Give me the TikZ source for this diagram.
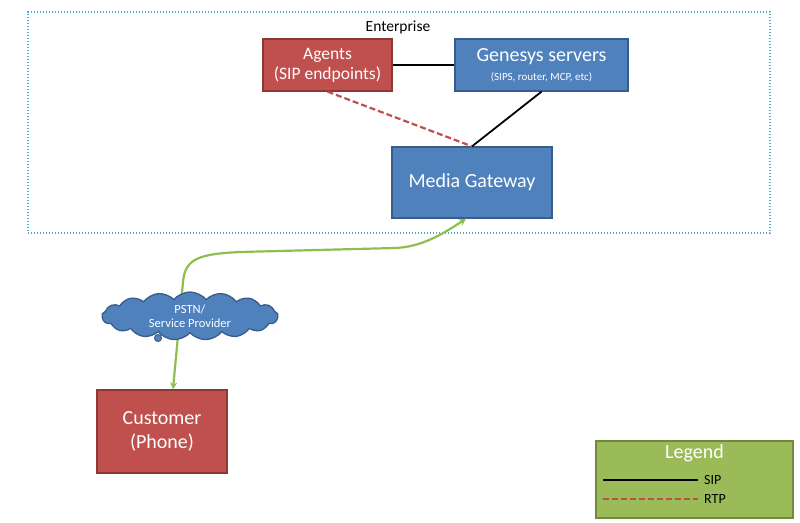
\documentclass[tikz,border=0pt]{standalone}
\usepackage{fontspec}
\setmainfont{Carlito}
\usetikzlibrary{positioning,shapes.symbols,arrows.meta}
\definecolor{boxred}{HTML}{C0504D}
\definecolor{edgered}{HTML}{8C3836}
\definecolor{boxblue}{HTML}{4F81BD}
\definecolor{edgeblue}{HTML}{385D8A}
\definecolor{boxgreen}{HTML}{9BBB59}
\definecolor{edgegreen}{HTML}{71893F}
\definecolor{callgreen}{HTML}{8DBF4F}
\definecolor{dotblue}{HTML}{4BACC6}
\definecolor{rtpred}{HTML}{C0504D}

\tikzset{
  redbox/.style={draw=edgered, fill=boxred, line width=1.3pt, text=white, align=center},
  bluebox/.style={draw=edgeblue, fill=boxblue, line width=1.3pt, text=white, align=center},
  sip/.style={black, line width=1.8pt},
  rtp/.style={rtpred, line width=2.2pt, dash pattern=on 6pt off 3pt},
  callline/.style={callgreen, line width=2.2pt, {Stealth[length=7pt,width=7pt]}-{Stealth[length=7pt,width=7pt]}},
}

\begin{document}
\begin{tikzpicture}[x=1pt, y=-1pt]
	\useasboundingbox (0,0) rectangle (800,522);
	
	% enterprise area
	\node[draw=dotblue, line width=1.4pt, dash pattern=on 1.4pt off 1.6pt, minimum width=742pt, minimum height=221pt] (enterprise) at (399,122.5) {};
	\node[font=\fontsize{15.5}{18}\selectfont] (entlabel) at (398,27) {Enterprise};
	
	\node[redbox, minimum width=129pt, minimum height=52pt, font=\fontsize{17.5}{20}\selectfont] (agents) at (327.5,65) {Agents\\(SIP endpoints)};
	\node[bluebox, minimum width=173pt, minimum height=52pt, font=\fontsize{20}{21}\selectfont] (genesys) at (541.5,65) {Genesys servers\\[-2pt]{\fontsize{11}{13}\selectfont (SIPS, router, MCP, etc)}};
	\node[bluebox, minimum width=160pt, minimum height=71pt, font=\fontsize{20}{22}\selectfont] (mg) at (472,182.5) {Media Gateway};
	
	\node[redbox, minimum width=130pt, minimum height=83pt, font=\fontsize{20}{24}\selectfont] (customer) at (162,431.5) {Customer\\(Phone)};
	
	\draw[sip] (agents) -- (genesys);
	\draw[sip] (genesys.south) -- (mg.north);
	\draw[rtp] (agents.south) -- (mg.north);
	\draw[callline] ([xshift=11pt]customer.north) -- (183,282) .. controls (185,258) and (200,254) .. (240,252) -- (395,248) .. controls (420,247) and (440,236) .. ([xshift=-6pt]mg.south);
	
	% cloud sits over the call line
	\node[cloud, cloud puffs=17, cloud puff arc=100, aspect=3.8, draw=edgeblue, fill=boxblue, line width=1.3pt, text=white, align=center, minimum width=176pt, minimum height=48pt, inner sep=0pt, font=\fontsize{12.5}{14}\selectfont] (pstn) at (190,316) {PSTN/\\Service Provider};
	\node[circle, draw=edgeblue, fill=boxblue, line width=1pt, minimum size=7pt, inner sep=0pt] (bubble) at (158,338) {};
	
	% legend
	\node[draw=edgegreen, fill=boxgreen, line width=1.3pt, minimum width=197pt, minimum height=77pt] (legend) at (694.5,479.5) {};
	\node[text=white, font=\fontsize{20}{22}\selectfont, below=1pt of legend.north] (legtitle) {Legend};
	\coordinate (sipa) at (603,480);
	\coordinate (sipb) at (698,480);
	\coordinate (rtpa) at (603,499);
	\coordinate (rtpb) at (698,499);
	\draw[sip] (sipa) -- (sipb);
	\draw[rtp] (rtpa) -- (rtpb);
	\node[right=5pt of sipb, font=\fontsize{14}{16}\selectfont, inner sep=1pt] (siptext) {SIP};
	\node[right=5pt of rtpb, font=\fontsize{14}{16}\selectfont, inner sep=1pt] (rtptext) {RTP};
	
\end{tikzpicture}
\end{document}
